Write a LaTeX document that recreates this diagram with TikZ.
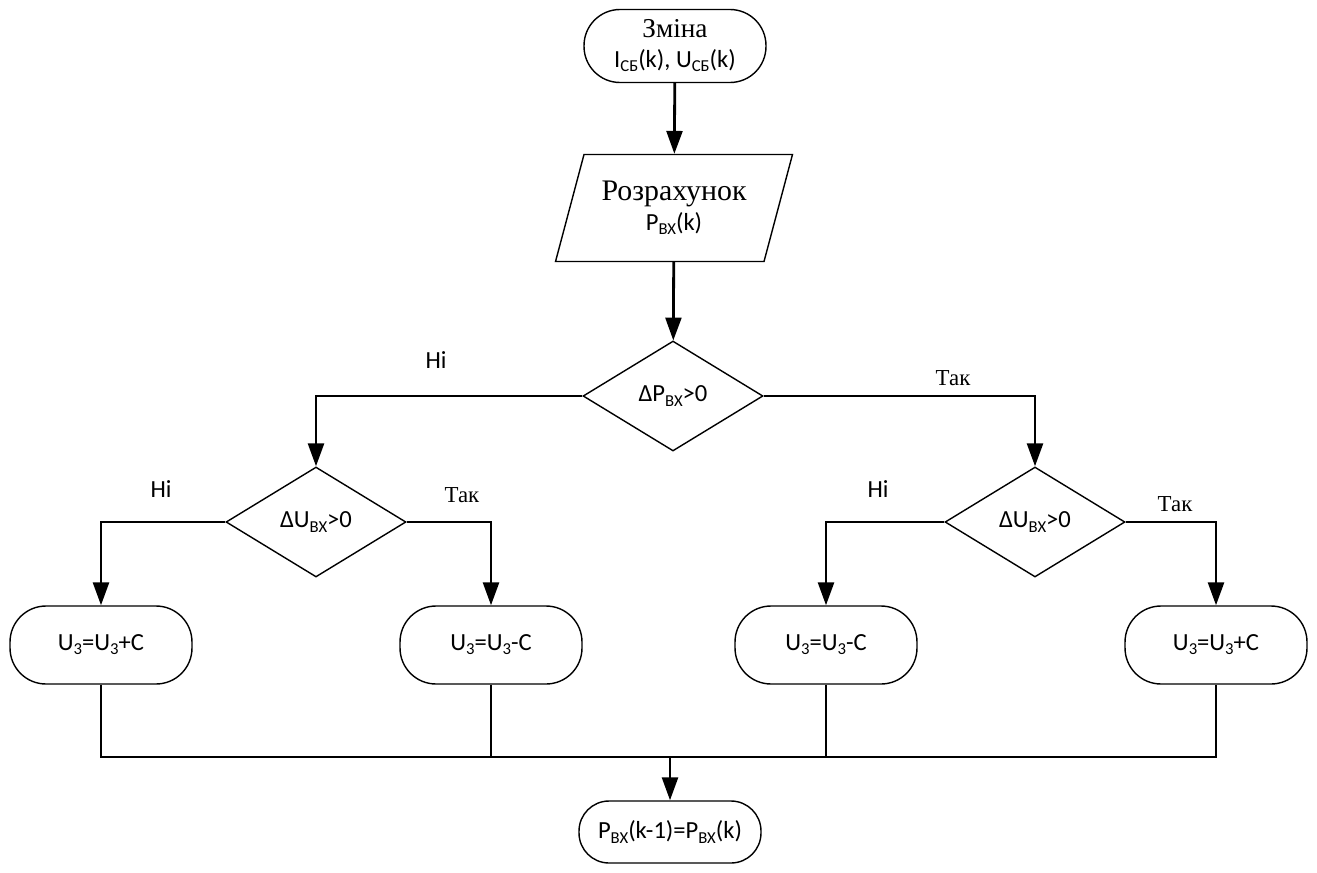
\documentclass[tikz,border=0pt]{standalone}
\usepackage{fontspec}
\setmainfont{Carlito}
\newfontfamily\serifcyr{Liberation Serif}
\usetikzlibrary{arrows.meta,shapes.geometric,positioning}

\newcommand{\lowtxt}[1]{\raisebox{-0.35ex}{\fontsize{9.5}{9.5}\selectfont #1}}

\tikzset{
  term/.style={draw, line width=0.8pt, rounded corners=0.72cm, minimum width=3.64cm,
    minimum height=1.48cm, align=center, inner sep=2pt},
  iobox/.style={draw, line width=0.8pt, trapezium, trapezium left angle=62,
    trapezium right angle=118, trapezium stretches body, minimum width=4.74cm,
    minimum height=2.14cm, align=center, inner sep=0pt},
  decision/.style={draw, line width=0.8pt, diamond, minimum width=3.6cm,
    minimum height=2.2cm, inner sep=0pt, aspect=1.64},
  flow/.style={line width=1.6pt},
  arr/.style={flow, -{Triangle[length=13pt, width=9pt]}},
  lbl/.style={font=\fontsize{14}{16}\selectfont},
  lbls/.style={font=\serifcyr\fontsize{13}{15}\selectfont}
}

\begin{document}
\begin{tikzpicture}[x=0.02cm, y=-0.02cm, font=\fontsize{14}{16}\selectfont]
\useasboundingbox (0,0) rectangle (1317,872);

% Start
\node[term, minimum height=1.46cm] (start) at (675,46)
  {{\serifcyr\fontsize{15.5}{17}\selectfont Зміна}\\[1pt] I\lowtxt{СБ}(k), U\lowtxt{СБ}(k)};

% Calculation
\node[iobox] (calc) at (674,208)
  {{\serifcyr\fontsize{17}{19}\selectfont Розрахунок}\\[1pt] P\lowtxt{ВХ}(k)};

% Decisions
\node[decision] (dp) at (673,396) {ΔP\lowtxt{ВХ}>0};
\node[decision] (dul) at (316,522) {ΔU\lowtxt{ВХ}>0};
\node[decision] (dur) at (1035,522) {ΔU\lowtxt{ВХ}>0};

% Actions
\node[term, minimum height=1.56cm] (act1) at (101,645) {U\lowtxt{3}=U\lowtxt{3}+C};
\node[term, minimum height=1.56cm] (act2) at (491,645) {U\lowtxt{3}=U\lowtxt{3}-C};
\node[term, minimum height=1.56cm] (act3) at (826,645) {U\lowtxt{3}=U\lowtxt{3}-C};
\node[term, minimum height=1.56cm] (act4) at (1216,645) {U\lowtxt{3}=U\lowtxt{3}+C};

% End
\node[term, minimum height=1.24cm, rounded corners=0.6cm] (stop) at (670,832)
  {P\lowtxt{ВХ}(k-1)=P\lowtxt{ВХ}(k)};

\coordinate (join) at (670,757);

% Branch labels
\node[lbl] (no1) at (436,360) {Ні};
\node[lbls] (yes1) at (953,378) {Так};
\node[lbl] (no2) at (161,489) {Ні};
\node[lbls] (yes2) at (462,495) {Так};
\node[lbl] (no3) at (878,489) {Ні};
\node[lbls] (yes3) at (1175,504) {Так};

% Connectors
\draw[arr] (start) -- (calc);
\draw[arr] (calc) -- (dp);
\draw[arr] (dp.west) -| (dul.north);
\draw[arr] (dp.east) -| (dur.north);
\draw[arr] (dul.west) -| (act1.north);
\draw[arr] (dul.east) -| (act2.north);
\draw[arr] (dur.west) -| (act3.north);
\draw[arr] (dur.east) -| (act4.north);

\draw[flow] (act1.south) -- (act1.south |- join) -- (act4.south |- join) -- (act4.south);
\draw[flow] (act2.south) -- (act2.south |- join);
\draw[flow] (act3.south) -- (act3.south |- join);
\draw[arr] (join) -- (stop);
\end{tikzpicture}
\end{document}
